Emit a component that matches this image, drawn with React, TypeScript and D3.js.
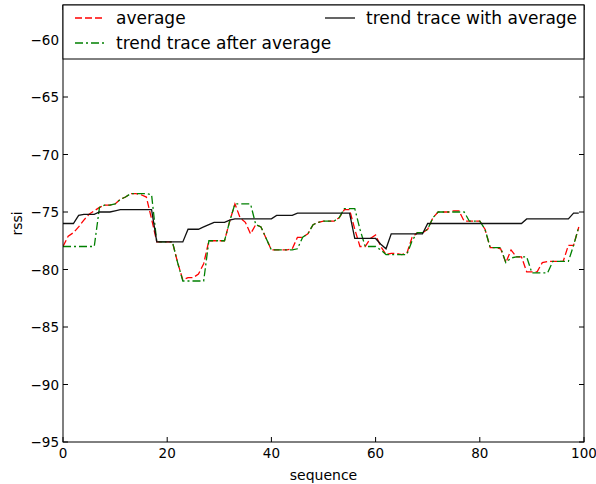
import React from 'react';
import * as d3 from 'd3';

// rssi readings, one value per sequence index 0..99
const averageValues = [
  -78.0, -77.1, -76.8, -76.3, -75.7, -75.2, -74.9, -74.6, -74.4, -74.4,
  -74.3, -73.9, -73.7, -73.4, -73.4, -73.5, -73.7, -75.6, -77.6, -77.6,
  -77.6, -77.6, -79.4, -80.9, -80.7, -80.7, -80.4, -79.5, -77.5, -77.5,
  -77.5, -77.5, -75.8, -74.3, -75.5, -75.9, -76.9, -76.1, -76.3, -77.3,
  -78.3, -78.3, -78.3, -78.3, -78.2, -77.2, -77.2, -76.9, -76.1, -75.9,
  -75.8, -75.8, -75.8, -75.5, -74.8, -74.8, -76.5, -78.0, -78.0, -77.3,
  -77.0, -78.0, -78.7, -78.6, -78.6, -78.7, -78.6, -77.2, -76.8, -76.8,
  -76.5, -75.5, -75.0, -75.0, -75.0, -74.9, -74.9, -75.8, -75.8, -75.8,
  -75.8, -76.5, -78.1, -78.1, -78.2, -79.4, -78.3, -78.9, -78.9, -80.2,
  -80.2, -80.2, -79.4, -79.3, -79.3, -79.3, -79.3, -77.9, -77.9, -76.3,
];

const trendWithAverage = [
  -76.0, -76.0, -76.0, -75.3, -75.2, -75.2, -75.2, -75.0, -75.0, -75.0,
  -74.9, -74.8, -74.8, -74.8, -74.8, -74.8, -74.8, -74.8, -77.6, -77.6,
  -77.6, -77.6, -77.6, -77.6, -76.5, -76.5, -76.5, -76.3, -76.1, -75.9,
  -75.9, -75.9, -75.7, -75.6, -75.6, -75.6, -75.6, -75.6, -75.6, -75.6,
  -75.6, -75.3, -75.3, -75.3, -75.3, -75.1, -75.1, -75.1, -75.1, -75.1,
  -75.1, -75.1, -75.1, -75.1, -75.1, -75.1, -77.3, -77.3, -77.3, -77.3,
  -77.3, -77.8, -78.2, -76.9, -76.9, -76.9, -76.9, -76.9, -76.9, -76.9,
  -76.0, -76.0, -76.0, -76.0, -76.0, -76.0, -76.0, -76.0, -76.0, -76.0,
  -76.0, -76.0, -76.0, -76.0, -76.0, -76.0, -76.0, -76.0, -76.0, -75.6,
  -75.6, -75.6, -75.6, -75.6, -75.6, -75.6, -75.6, -75.6, -75.1, -75.1,
];

const trendAfterAverage = [
  -78.0, -78.0, -78.0, -78.0, -78.0, -78.0, -78.0, -74.6, -74.4, -74.4,
  -74.3, -73.9, -73.7, -73.4, -73.4, -73.4, -73.4, -73.5, -77.6, -77.6,
  -77.6, -77.6, -79.4, -81.0, -81.0, -81.0, -81.0, -81.0, -77.5, -77.5,
  -77.5, -77.5, -75.8, -74.3, -74.3, -74.3, -74.3, -76.1, -76.3, -77.3,
  -78.3, -78.3, -78.3, -78.3, -78.3, -78.2, -77.2, -76.9, -76.1, -75.9,
  -75.8, -75.8, -75.8, -75.5, -74.7, -74.7, -74.7, -76.5, -78.0, -78.0,
  -78.0, -78.3, -78.7, -78.7, -78.7, -78.7, -78.7, -77.5, -76.8, -76.8,
  -76.5, -75.5, -75.0, -75.0, -75.0, -75.0, -75.0, -75.0, -75.8, -75.8,
  -75.8, -76.5, -78.1, -78.1, -78.1, -79.4, -79.0, -78.9, -78.9, -78.9,
  -80.3, -80.3, -80.3, -80.3, -79.3, -79.3, -79.3, -79.3, -77.9, -76.3,
];

const xTicks = [0, 20, 40, 60, 80, 100];
const yTicks = [-95, -90, -85, -80, -75, -70, -65, -60];

const WIDTH = 596;
const HEIGHT = 484;
const margin = { top: 5, right: 12, bottom: 42, left: 63 };
const font = '"DejaVu Sans", sans-serif';

const App = () => {
  const x = d3.scaleLinear().domain([0, 100]).range([margin.left, WIDTH - margin.right]);
  const y = d3.scaleLinear().domain([-95, -57]).range([HEIGHT - margin.bottom, margin.top]);

  const line = d3
    .line<number>()
    .x((d, i) => x(i))
    .y((d) => y(d));

  const series = [
    { label: 'average', values: averageValues, color: '#ff0000', dash: '7,3' },
    { label: 'trend trace after average', values: trendAfterAverage, color: '#008000', dash: '8,3,2,3' },
    { label: 'trend trace with average', values: trendWithAverage, color: '#111111', dash: null },
  ];

  const [x0, x1] = x.range();
  const [yb, yt] = y.range();

  // legend cells (two columns, expanded across the top of the axes)
  const legendItems = [
    { s: series[0], lx: x0 + 12, ly: yt + 13 },
    { s: series[1], lx: x0 + 12, ly: yt + 38 },
    { s: series[2], lx: x0 + 262, ly: yt + 13 },
  ];

  return (
    <svg width={WIDTH} height={HEIGHT} style={{ display: 'block', position: 'absolute', left: 0, top: 0, background: '#fff' }}>
      <rect width={WIDTH} height={HEIGHT} fill="#fff" />
      <defs>
        <clipPath id="plot">
          <rect x={x0} y={yt} width={x1 - x0} height={yb - yt} />
        </clipPath>
      </defs>

      <g clipPath="url(#plot)">
        {series.map((s) => (
          <path
            key={s.label}
            d={line(s.values) || ''}
            fill="none"
            stroke={s.color}
            strokeWidth={1.3}
            strokeDasharray={s.dash || undefined}
          />
        ))}
      </g>

      {/* ticks, inward on all sides */}
      {xTicks.map((t) => (
        <g key={'x' + t}>
          <line x1={x(t)} x2={x(t)} y1={yb} y2={yb - 5} stroke="#000" />
          <line x1={x(t)} x2={x(t)} y1={yt} y2={yt + 5} stroke="#000" />
          <text x={x(t)} y={yb + 16} textAnchor="middle" fontFamily={font} fontSize={13.5}>
            {t}
          </text>
        </g>
      ))}
      {yTicks.map((t) => (
        <g key={'y' + t}>
          <line x1={x0} x2={x0 + 5} y1={y(t)} y2={y(t)} stroke="#000" />
          <line x1={x1} x2={x1 - 5} y1={y(t)} y2={y(t)} stroke="#000" />
          <text x={x0 - 4} y={y(t) + 5} textAnchor="end" fontFamily={font} fontSize={13.5}>
            {'\u2212' + Math.abs(t)}
          </text>
        </g>
      ))}

      <rect x={x0} y={yt} width={x1 - x0} height={yb - yt} fill="none" stroke="#000" strokeWidth={1} />

      {/* legend */}
      <rect x={x0} y={yt} width={x1 - x0} height={54} fill="#fff" stroke="#000" strokeWidth={1} />
      {legendItems.map(({ s, lx, ly }) => (
        <g key={'lg' + s.label}>
          <line
            x1={lx}
            x2={lx + 30}
            y1={ly}
            y2={ly}
            stroke={s.color}
            strokeWidth={1.3}
            strokeDasharray={s.dash || undefined}
          />
          <text x={lx + 41} y={ly + 6} fontFamily={font} fontSize={17}>
            {s.label}
          </text>
        </g>
      ))}

      <text x={(x0 + x1) / 2} y={HEIGHT - 4} textAnchor="middle" fontFamily={font} fontSize={14}>
        sequence
      </text>
      <text
        transform={`translate(${22},${(yt + yb) / 2}) rotate(-90)`}
        textAnchor="middle"
        fontFamily={font}
        fontSize={14}
      >
        rssi
      </text>
    </svg>
  );
};

export default App;
